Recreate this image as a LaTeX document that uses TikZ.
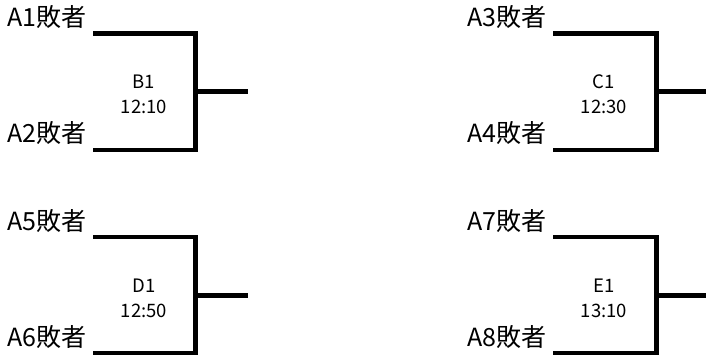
\documentclass[tikz,border=0pt]{standalone}
\usepackage{fontspec}
\setmainfont{Noto Sans CJK JP}
\usetikzlibrary{positioning}
\tikzset{
  bracket/.style={line width=4.5pt},
  team/.style={anchor=base west, inner sep=0pt, font=\fontsize{25}{29}\selectfont},
  slot/.style={align=center, inner sep=0pt, font=\fontsize{18.5}{25}\selectfont}
}

\begin{document}
\begin{tikzpicture}[x=1pt,y=-1pt]
    \useasboundingbox (0,0) rectangle (706,355);

    % match B1
    \begin{scope}[shift={(0,0)}]
      \node[team] (A1) at (7,27) {A1敗者};
      \node[team] (A2) at (7,143) {A2敗者};
      \coordinate (B1top) at (93,33.5);
      \coordinate (B1bot) at (93,150);
      \coordinate (B1tr) at (195.5,33.5);
      \coordinate (B1br) at (195.5,150);
      \coordinate (B1mid) at (195.5,91.75);
      \coordinate (B1out) at (248,91.75);
      \node[slot] (B1) at (144,94.5) {B1\\12:10};
      \draw[bracket] (B1top) -- (B1tr) -- (B1br) -- (B1bot);
      \draw[bracket] (B1mid) -- (B1out);
    \end{scope}

    % match C1
    \begin{scope}[shift={(460,0)}]
      \node[team] (A3) at (7,27) {A3敗者};
      \node[team] (A4) at (7,143) {A4敗者};
      \coordinate (C1top) at (93,33.5);
      \coordinate (C1bot) at (93,150);
      \coordinate (C1tr) at (196.5,33.5);
      \coordinate (C1br) at (196.5,150);
      \coordinate (C1mid) at (196.5,91.75);
      \coordinate (C1out) at (250,91.75);
      \node[slot] (C1) at (144,94.5) {C1\\12:30};
      \draw[bracket] (C1top) -- (C1tr) -- (C1br) -- (C1bot);
      \draw[bracket] (C1mid) -- (C1out);
    \end{scope}

    % match D1
    \begin{scope}[shift={(0,203.5)}]
      \node[team] (A5) at (7,27) {A5敗者};
      \node[team] (A6) at (7,143) {A6敗者};
      \coordinate (D1top) at (93,33.5);
      \coordinate (D1bot) at (93,150);
      \coordinate (D1tr) at (195.5,33.5);
      \coordinate (D1br) at (195.5,150);
      \coordinate (D1mid) at (195.5,91.75);
      \coordinate (D1out) at (248,91.75);
      \node[slot] (D1) at (144,94.5) {D1\\12:50};
      \draw[bracket] (D1top) -- (D1tr) -- (D1br) -- (D1bot);
      \draw[bracket] (D1mid) -- (D1out);
    \end{scope}

    % match E1
    \begin{scope}[shift={(460,203.5)}]
      \node[team] (A7) at (7,27) {A7敗者};
      \node[team] (A8) at (7,143) {A8敗者};
      \coordinate (E1top) at (93,33.5);
      \coordinate (E1bot) at (93,150);
      \coordinate (E1tr) at (196.5,33.5);
      \coordinate (E1br) at (196.5,150);
      \coordinate (E1mid) at (196.5,91.75);
      \coordinate (E1out) at (250,91.75);
      \node[slot] (E1) at (144,94.5) {E1\\13:10};
      \draw[bracket] (E1top) -- (E1tr) -- (E1br) -- (E1bot);
      \draw[bracket] (E1mid) -- (E1out);
    \end{scope}
\end{tikzpicture}
\end{document}
